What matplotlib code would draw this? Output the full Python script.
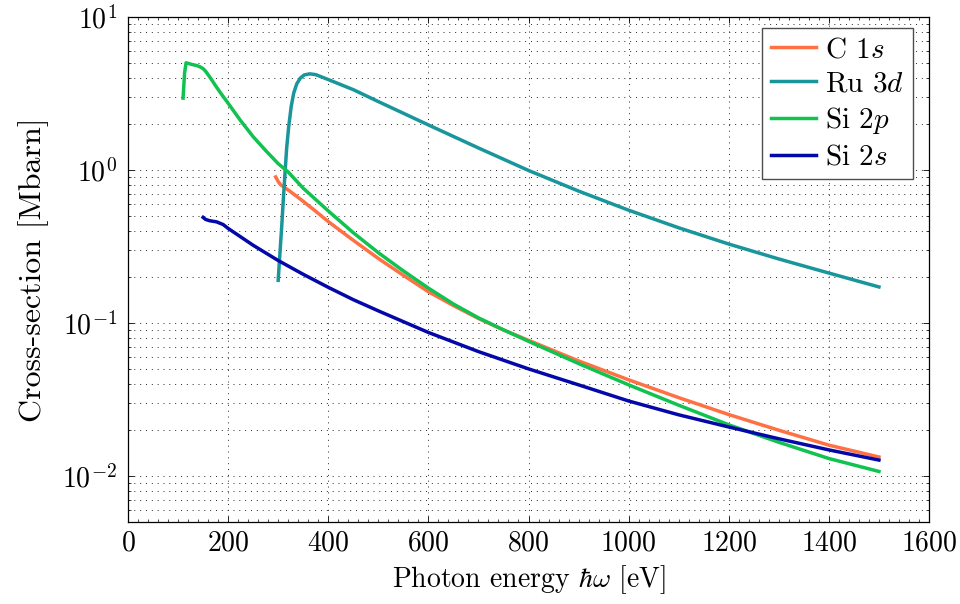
import numpy as np
import matplotlib
matplotlib.use('Agg')
import matplotlib.pyplot as plt
from matplotlib.ticker import MultipleLocator, LogLocator, NullFormatter

plt.rcParams['font.family'] = ['cmr10', 'DejaVu Serif']
plt.rcParams['mathtext.fontset'] = 'cm'
plt.rcParams['axes.formatter.use_mathtext'] = True

# photoionisation cross-sections [Mbarn] vs photon energy [eV]
c1s_e = [295, 300, 305, 315, 325, 350, 375, 400, 450, 500, 550, 600, 650, 700, 750, 800,
         900, 1000, 1100, 1200, 1300, 1400, 1500]
c1s_s = [0.90, 0.84, 0.80, 0.76, 0.72, 0.624, 0.537, 0.46, 0.347, 0.264, 0.205, 0.160, 0.130,
         0.107, 0.090, 0.077, 0.0565, 0.0425, 0.0325, 0.0252, 0.0199, 0.0159, 0.0133]

ru3d_e = [300, 303, 307, 310, 314, 317, 321, 326, 331, 337, 344, 352, 363, 375, 400, 450,
          500, 600, 700, 800, 900, 1000, 1100, 1200, 1300, 1400, 1500]
ru3d_s = [0.19, 0.27, 0.425, 0.62, 1.0, 1.4, 1.92, 2.6, 3.18, 3.65, 3.98, 4.18, 4.25, 4.2,
          3.9, 3.35, 2.8, 1.97, 1.393, 0.993, 0.728, 0.546, 0.419, 0.328, 0.262, 0.212, 0.172]

si2p_e = [110, 113, 116, 120, 127, 137, 144, 150, 155, 165, 175, 187, 200, 225, 250, 275,
          300, 320, 350, 400, 450, 500, 550, 600, 650, 700, 750, 800, 900, 1000, 1100, 1200,
          1300, 1400, 1500]
si2p_s = [2.95, 4.3, 5.02, 4.98, 4.9, 4.82, 4.72, 4.6, 4.42, 3.98, 3.55, 3.12, 2.73, 2.10, 1.65,
          1.34, 1.10, 0.97, 0.76, 0.54, 0.389, 0.288, 0.219, 0.169, 0.133, 0.108, 0.0902,
          0.0759, 0.0543, 0.0394, 0.029, 0.0216, 0.0166, 0.0130, 0.0107]

si2s_e = [150, 155, 163, 177, 190, 200, 250, 300, 350, 400, 450, 500, 600, 700, 800, 900,
          1000, 1100, 1200, 1300, 1400, 1500]
si2s_s = [0.49, 0.475, 0.466, 0.458, 0.44, 0.415, 0.322, 0.256, 0.208, 0.171, 0.142, 0.120,
          0.0867, 0.065, 0.0501, 0.0394, 0.0309, 0.0251, 0.0209, 0.0175, 0.0148, 0.0127]

labels = [r'C 1$s$', r'Ru 3$d$', r'Si 2$p$', r'Si 2$s$']
colors = ['#FF7043', '#18969B', '#10C24F', '#0508A8']

fig = plt.figure(figsize=(9.6, 6.04), dpi=100)
ax = fig.add_axes([128/960, 1 - 522/604, (929 - 128)/960, (522 - 17)/604])

series = [(c1s_e, c1s_s), (ru3d_e, ru3d_s), (si2p_e, si2p_s), (si2s_e, si2s_s)]
for (e, s), lab, col in zip(series, labels, colors):
    ax.plot(e, s, color=col, lw=2.5, label=lab, solid_joinstyle='round')

ax.set_yscale('log')
ax.set_xlim(0, 1600)
ax.set_ylim(0.005, 10)
ax.xaxis.set_major_locator(MultipleLocator(200))
ax.xaxis.set_minor_locator(MultipleLocator(20))
ax.yaxis.set_major_locator(LogLocator(base=10, numticks=10))
ax.yaxis.set_minor_locator(LogLocator(base=10, subs=np.arange(2, 10), numticks=20))
ax.yaxis.set_minor_formatter(NullFormatter())

ax.grid(True, which='major', axis='both', color='0.15', lw=0.7, ls=(0, (1, 5)))
ax.grid(True, which='minor', axis='y', color='0.15', lw=0.7, ls=(0, (1, 5)))

ax.tick_params(which='both', direction='in', top=True, right=True, labelsize=20)
ax.tick_params(which='major', length=4, width=0.6)
ax.tick_params(which='minor', length=2, width=0.5)
ax.tick_params(axis='x', pad=6)
ax.tick_params(axis='y', pad=8)
for sp in ax.spines.values():
    sp.set_linewidth(0.9)

ax.set_xlabel(r'Photon energy $\hbar\omega$ [eV]', fontsize=20, labelpad=5)
ax.set_ylabel('Cross-section [Mbarn]', fontsize=23, labelpad=9)

leg = ax.legend(loc='upper right', bbox_to_anchor=(0.98, 0.978), borderaxespad=0,
                fontsize=21, fancybox=False, framealpha=1, edgecolor='0.3',
                handlelength=1.55, labelspacing=0.27, handletextpad=0.3, borderpad=0.3)
leg.get_frame().set_linewidth(1.0)

fig.savefig('out.png', dpi=100)
